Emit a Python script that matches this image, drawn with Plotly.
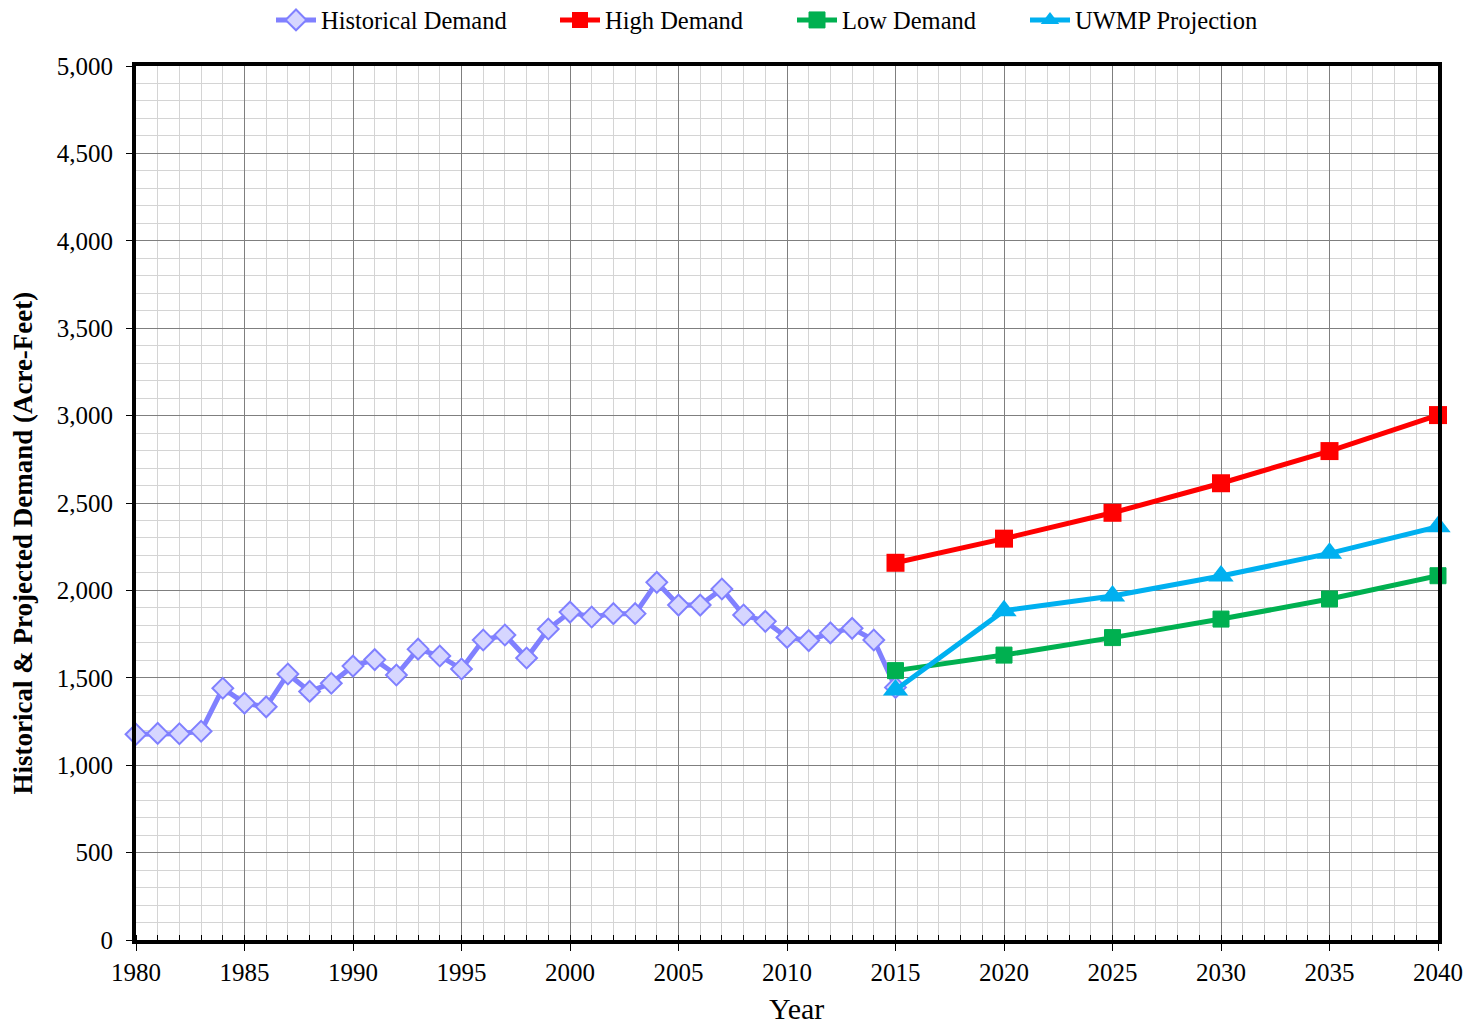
import plotly.graph_objects as go

hist_years = list(range(1980, 2016))
hist_values = [1177, 1182, 1180, 1194, 1440, 1355, 1334, 1522, 1422, 1469, 1567, 1604,
               1516, 1664, 1625, 1550, 1716, 1745, 1613, 1779, 1876, 1848, 1867, 1867,
               2046, 1916, 1916, 2008, 1859, 1823, 1731, 1713, 1757, 1783, 1716, 1445]

proj_years = [2015, 2020, 2025, 2030, 2035, 2040]
high_values = [2158, 2296, 2444, 2613, 2797, 3003]
low_values = [1541, 1630, 1730, 1836, 1951, 2084]
uwmp_values = [1430, 1884, 1968, 2082, 2212, 2364]

x_ticks = list(range(1980, 2041, 5))
y_ticks = list(range(0, 5001, 500))

FONT = "Liberation Serif"
W, H = 1463, 1017          # page body adds an 8px offset
ML, MR, MT, MB = 128, 33, 58, 85

fig = go.Figure()
fig.add_trace(go.Scatter(
    x=hist_years, y=hist_values, name="Historical Demand", mode="lines+markers",
    line=dict(color="#8080ff", width=5),
    marker=dict(symbol="diamond", size=16, color="#d6d6ff", line=dict(color="#8080ff", width=2)),
    cliponaxis=False, legend="legend"))
fig.add_trace(go.Scatter(
    x=proj_years, y=high_values, name="High Demand", mode="lines+markers",
    line=dict(color="#ff0000", width=5),
    marker=dict(symbol="square", size=18, color="#ff0000"),
    cliponaxis=False, legend="legend2"))
fig.add_trace(go.Scatter(
    x=proj_years, y=low_values, name="Low Demand", mode="lines+markers",
    line=dict(color="#00b050", width=5),
    marker=dict(symbol="square", size=16, color="#00b050", line=dict(color="#00b050", width=1)),
    cliponaxis=False, legend="legend3"))
fig.add_trace(go.Scatter(
    x=proj_years, y=uwmp_values, name="UWMP Projection", mode="lines+markers",
    line=dict(color="#00b0f0", width=5),
    marker=dict(symbol="triangle-up", size=22, color="#00b0f0"),
    cliponaxis=False, legend="legend4"))

text_starts = [321, 605, 842, 1075]


def leg(px):
    return dict(orientation="h", x=(px - 50 - 8) / W, xanchor="left", xref="container",
                y=1 - 12 / H, yanchor="middle", yref="container",
                font=dict(family=FONT, size=24.5), itemwidth=40,
                bgcolor="rgba(0,0,0,0)")


fig.update_layout(
    width=W, height=H,
    margin=dict(l=ML, r=MR, t=MT, b=MB, autoexpand=False),
    paper_bgcolor="white", plot_bgcolor="white",
    font=dict(family=FONT, size=22, color="black"),
    showlegend=True,
    legend=leg(text_starts[0]), legend2=leg(text_starts[1]),
    legend3=leg(text_starts[2]), legend4=leg(text_starts[3]),
)

fig.update_xaxes(
    range=[1980, 2040], tickvals=x_ticks, ticktext=[str(v) for v in x_ticks],
    automargin=False,
    showline=True, mirror=True, linecolor="black", linewidth=4,
    showgrid=True, gridcolor="#7f7f7f", gridwidth=1,
    ticks="outside", ticklen=7, tickcolor="black",
    tickfont=dict(family=FONT, size=25),
    minor=dict(dtick=1, tick0=1980, showgrid=True, gridcolor="#d4d4d4", gridwidth=1,
               ticks="inside", ticklen=5, tickcolor="black"),
    zeroline=False,
)
fig.update_yaxes(
    range=[0, 5000], tickvals=y_ticks, tickformat=",",
    automargin=False,
    showline=True, mirror=True, linecolor="black", linewidth=4,
    showgrid=True, gridcolor="#7f7f7f", gridwidth=1,
    ticks="outside", ticklen=6, tickcolor="black", ticklabelstandoff=8,
    tickfont=dict(family=FONT, size=25),
    minor=dict(dtick=100, tick0=0, showgrid=True, gridcolor="#d4d4d4", gridwidth=1),
    zeroline=False,
)

plot_h = H - MT - MB
plot_w = W - ML - MR
fig.add_annotation(
    text="<b>Historical & Projected Demand (Acre-Feet)</b>",
    xref="paper", yref="paper",
    x=(14 - ML) / plot_w, y=((H - MB) - 535.5) / plot_h,
    xanchor="center", yanchor="middle", textangle=-90, showarrow=False,
    font=dict(family=FONT, size=27, color="black"))
fig.add_annotation(
    text="Year",
    xref="paper", yref="paper",
    x=(788 - ML) / plot_w, y=((H - MB) - 1000) / plot_h,
    xanchor="center", yanchor="middle", showarrow=False,
    font=dict(family=FONT, size=30, color="black"))

fig.write_html("out.html")
